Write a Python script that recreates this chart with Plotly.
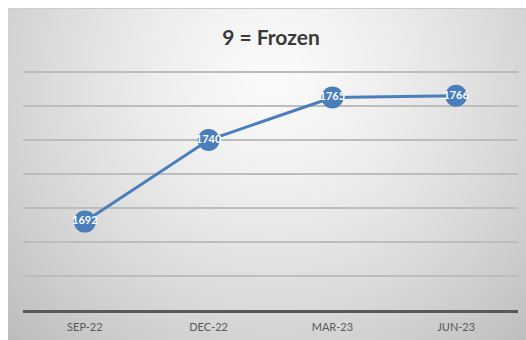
import base64
import struct
import zlib

import numpy as np
import plotly.graph_objects as go

# ---- data ----
categories = ["SEP-22", "DEC-22", "MAR-23", "JUN-23"]
values = [1692, 1740, 1765, 1766]
title_text = "9 = Frozen"

W, H = 526, 340
ML, MR, MT, MB = 23, 8, 71, 30
PW, PH = W - ML - MR, H - MT - MB

# ---- background gradient (chart area from x=8, y=8) ----
BW, BH = W - 8, H - 8
yy, xx = np.mgrid[0:BH, 0:BW].astype(float)
cx, cy = 265.0, 70.0
r = np.sqrt(((xx - cx) / 320.0) ** 2 + ((yy - cy) / 320.0) ** 2)
img = 250 - 50 * np.clip(r, 0, 1.2) ** 1.4
img = np.clip(img, 0, 255).astype(np.uint8)
img[0:1, :] = 205


def png_bytes(a):
    h, w = a.shape
    raw = b"".join(b"\x00" + a[i].tobytes() for i in range(h))

    def chunk(t, d):
        c = struct.pack(">I", len(d)) + t + d
        return c + struct.pack(">I", zlib.crc32(t + d) & 0xFFFFFFFF)

    return (b"\x89PNG\r\n\x1a\n" + chunk(b"IHDR", struct.pack(">IIBBBBB", w, h, 8, 0, 0, 0, 0))
            + chunk(b"IDAT", zlib.compress(raw, 9)) + chunk(b"IEND", b""))


bg_uri = "data:image/png;base64," + base64.b64encode(png_bytes(img)).decode()

FONT = "Lato, sans-serif"

fig = go.Figure()
fig.add_trace(go.Scatter(
    x=categories, y=values, mode="lines+markers+text",
    line=dict(color="#4a7ebb", width=3),
    marker=dict(size=22, color="#4a7ebb"),
    text=["<b>%d</b>" % v for v in values], textposition="middle center",
    textfont=dict(color="white", size=11, family=FONT),
    hoverinfo="skip", showlegend=False, cliponaxis=False,
))

fig.add_layout_image(dict(
    source=bg_uri, xref="paper", yref="paper",
    x=(8 - ML) / PW, y=(H - MB - 8) / PH,
    sizex=BW / PW, sizey=BH / PH, sizing="stretch",
    xanchor="left", yanchor="top", layer="below",
))

fig.update_layout(
    width=W, height=H,
    margin=dict(l=ML, r=MR, t=MT, b=MB, pad=0),
    paper_bgcolor="white", plot_bgcolor="rgba(0,0,0,0)",
    title=dict(text="<b>" + title_text + "</b>", x=271 / W, xanchor="center",
               y=1 - 38 / H, yanchor="middle",
               font=dict(size=21, color="#3a3a3a", family=FONT)),
    xaxis=dict(type="category", range=[-0.5, 3.5], showgrid=False,
               showline=True, linecolor="#595959", linewidth=2.5,
               ticks="outside", ticklen=5, tickcolor="rgba(0,0,0,0)",
               tickfont=dict(size=11, color="#595959", family=FONT),
               fixedrange=True),
    yaxis=dict(range=[1640, 1780.6], dtick=20, tick0=1640, showticklabels=False,
               showgrid=True, gridcolor="#bdbdbd", gridwidth=1.5,
               zeroline=False, showline=False, fixedrange=True),
)

fig.write_html("out.html")
